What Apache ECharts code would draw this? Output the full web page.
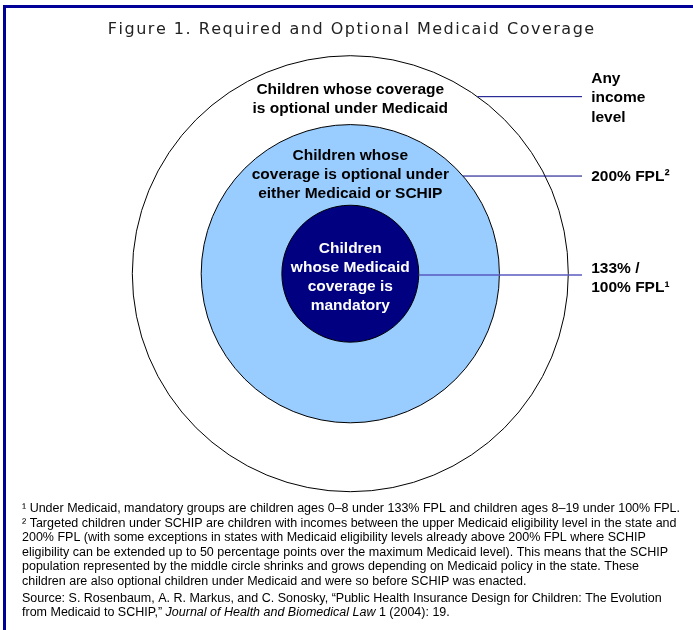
<!DOCTYPE html>
<html><head><meta charset="utf-8">
<script src="https://cdn.jsdelivr.net/npm/echarts@6/dist/echarts.min.js"></script>
<style>html,body{margin:0;padding:0;background:#fff}#c{width:693px;height:630px}</style>
</head><body><div id="c"></div>
<script>
// ---- data ----
const titleText = 'Figure 1. Required and Optional Medicaid Coverage';
const circleNames = [
  'Children whose coverage\nis optional under Medicaid',
  'Children whose\ncoverage is optional under\neither Medicaid or SCHIP',
  'Children\nwhose Medicaid\ncoverage is\nmandatory'
];
const incomeLevels = ['Any\nincome\nlevel', '200% FPL²', '133% /\n100% FPL¹'];
const circleSize = [100, 68.4, 31.4]; // relative radius of each coverage circle
const footnoteLines = [
  '¹ Under Medicaid, mandatory groups are children ages 0–8 under 133% FPL and children ages 8–19 under 100% FPL.',
  '² Targeted children under SCHIP are children with incomes between the upper Medicaid eligibility level in the state and',
  '200% FPL (with some exceptions in states with Medicaid eligibility levels already above 200% FPL where SCHIP',
  'eligibility can be extended up to 50 percentage points over the maximum Medicaid level). This means that the SCHIP',
  'population represented by the middle circle shrinks and grows depending on Medicaid policy in the state. These',
  'children are also optional children under Medicaid and were so before SCHIP was enacted.'
];
const sourceLine1 = 'Source: S. Rosenbaum, A. R. Markus, and C. Sonosky, “Public Health Insurance Design for Children: The Evolution';
const sourceLine2a = 'from Medicaid to SCHIP,” ';
const sourceLine2b = 'Journal of Health and Biomedical Law';
const sourceLine2c = ' 1 (2004): 19.';

// ---- layout / style ----
const fills = ['#ffffff', '#99CCFF', '#000080'];
const textColors = ['#000000', '#000000', '#ffffff'];
const leaderColors = ['#000080', '#000080', '#5a5abf'];
const leaderY = [81.2, 44.8, -0.6];
const labelY = [79.9, 45.4, -1.6];
const levelLabelDY = [1.5, 1, 3];
const leaderEndX = 106.3;
const levelLabelX = 110.5;
const titleSpacing = 1.5;

// the title is letter-spaced: draw it glyph by glyph (zrender has no letterSpacing option)
(function () {
  const proto = CanvasRenderingContext2D.prototype;
  const orig = proto.fillText;
  proto.fillText = function (t, x, y, w) {
    if (t === titleText) {
      const chars = Array.from(t);
      const widths = chars.map(ch => this.measureText(ch).width);
      const total = widths.reduce((a, b) => a + b, 0) + titleSpacing * (chars.length - 1);
      const align = this.textAlign;
      let sx = x;
      if (align === 'center') sx = x - total / 2;
      else if (align === 'right' || align === 'end') sx = x - total;
      this.textAlign = 'left';
      chars.forEach((ch, k) => { orig.call(this, ch, sx, y); sx += widths[k] + titleSpacing; });
      this.textAlign = align;
      return;
    }
    return w === undefined ? orig.call(this, t, x, y) : orig.call(this, t, x, y, w);
  };
})();

const chart = echarts.init(document.getElementById('c'), null, {renderer: 'canvas'});
const fontMain = 'bold 15.5px "Liberation Sans", Arial, sans-serif';

function renderItem(params, api) {
  const i = api.value(0);
  const r = api.value(1);
  const c = api.coord([0, 0]);
  const rp = api.size([r, 0])[0];
  const ly = leaderY[i];
  const ex = Math.sqrt(Math.max(r * r - ly * ly, 0));
  const p1 = api.coord([ex, ly]);
  const p2 = api.coord([leaderEndX, ly]);
  const lp = api.coord([levelLabelX, ly]);
  const tp = api.coord([0, labelY[i]]);
  return {
    type: 'group',
    children: [
      {type: 'circle', shape: {cx: c[0], cy: c[1], r: rp},
       style: {fill: fills[i], stroke: '#000', lineWidth: 1}, z2: i * 3},
      {type: 'line', shape: {x1: p1[0], y1: p1[1], x2: p2[0], y2: p2[1]},
       style: {stroke: leaderColors[i], lineWidth: i === 2 ? 1.5 : 1}, z2: 20},
      {type: 'text', x: tp[0], y: tp[1], z2: i * 3 + 1,
       style: {text: circleNames[i], fill: textColors[i], font: fontMain,
               align: 'center', verticalAlign: 'middle', lineHeight: 19}},
      {type: 'text', x: lp[0], y: lp[1] + levelLabelDY[i], z2: 21,
       style: {text: incomeLevels[i], fill: '#000', font: fontMain,
               align: 'left', verticalAlign: 'middle', lineHeight: 19.5}}
    ]
  };
}

const footFont = '12.5px "Liberation Sans", Arial, sans-serif';
const option = {
  animation: false,
  grid: {left: 132.3, top: 55.7, width: 436, height: 436},
  xAxis: {type: 'value', min: -100, max: 100, show: false},
  yAxis: {type: 'value', min: -100, max: 100, show: false},
  series: [{
    type: 'custom',
    clip: false,
    renderItem: renderItem,
    data: circleSize.map((v, i) => [i, v])
  }],
  graphic: [
    {type: 'rect', left: 3, top: 5, shape: {width: 690, height: 3}, style: {fill: '#000099'}},
    {type: 'rect', left: 3, top: 5, shape: {width: 3, height: 625}, style: {fill: '#000099'}},
    {type: 'text', x: 351, y: 30, style: {text: titleText, font: '16px "DejaVu Sans", sans-serif', fill: '#222', align: 'center', verticalAlign: 'middle'}},
    {type: 'text', x: 22, y: 501.5, style: {text: footnoteLines.join('\n'), font: footFont, fill: '#000', lineHeight: 14.5, align: 'left', verticalAlign: 'top'}},
    {type: 'text', x: 22, y: 591, style: {
      text: sourceLine1 + '\n' + sourceLine2a + '{i|' + sourceLine2b + '}' + sourceLine2c,
      font: footFont, fill: '#000', lineHeight: 14.5, align: 'left', verticalAlign: 'top',
      rich: {i: {fontStyle: 'italic', fontSize: 12.5, fontFamily: '"Liberation Sans", Arial, sans-serif', fill: '#000'}}
    }}
  ]
};
chart.setOption(option);
</script>
</body></html>
